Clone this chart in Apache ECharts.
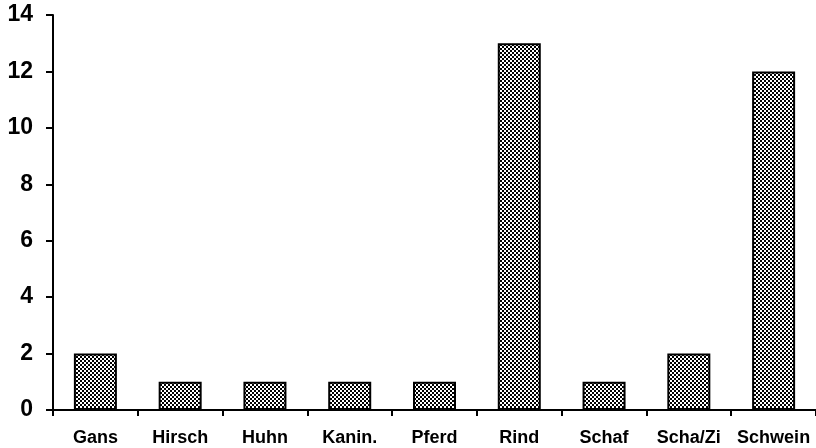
<!DOCTYPE html>
<html>
<head>
<meta charset="utf-8">
<script src="https://cdn.jsdelivr.net/npm/echarts@6/dist/echarts.min.js"></script>
<style>html,body{margin:0;padding:0;background:#fff;}#c{width:816px;height:448px;}</style>
</head>
<body>
<div id="c"></div>
<script>
const categories = ['Gans','Hirsch','Huhn','Kanin.','Pferd','Rind','Schaf','Scha/Zi','Schwein'];
const values = [2,1,1,1,1,13,1,2,12];
const yTicks = {min:0, max:14, interval:2};

const pc = document.createElement('canvas');
pc.width = 4; pc.height = 4;
const ctx = pc.getContext('2d');
ctx.fillStyle = '#fff'; ctx.fillRect(0,0,4,4);
ctx.fillStyle = '#000';
ctx.fillRect(0,0,2,2); ctx.fillRect(2,2,2,2);

const chart = echarts.init(document.getElementById('c'), null, {renderer:'canvas'});
chart.setOption({
  animation: false,
  backgroundColor: '#fff',
  grid: {left:53, right:0, top:15, bottom:38, containLabel:false},
  xAxis: {
    type:'category', data:categories,
    axisLine:{lineStyle:{color:'#000', width:2}},
    axisTick:{show:true, length:6, lineStyle:{color:'#000', width:2}, alignWithLabel:false},
    axisLabel:{color:'#000', fontFamily:'Liberation Sans, Arial, sans-serif', fontWeight:'bold', fontSize:18, margin:19, interval:0}
  },
  yAxis: {
    type:'value', min:yTicks.min, max:yTicks.max, interval:yTicks.interval,
    axisLine:{show:true, lineStyle:{color:'#000', width:2}},
    axisTick:{show:true, length:7, lineStyle:{color:'#000', width:2}},
    splitLine:{show:false},
    axisLabel:{color:'#000', fontFamily:'Liberation Sans, Arial, sans-serif', fontWeight:'bold', fontSize:23, margin:20}
  },
  series: [{
    type:'bar', data:values, barWidth:43,
    itemStyle:{color:{image:pc, repeat:'repeat'}, borderColor:'#000', borderWidth:2}
  }]
});
</script>
</body>
</html>
